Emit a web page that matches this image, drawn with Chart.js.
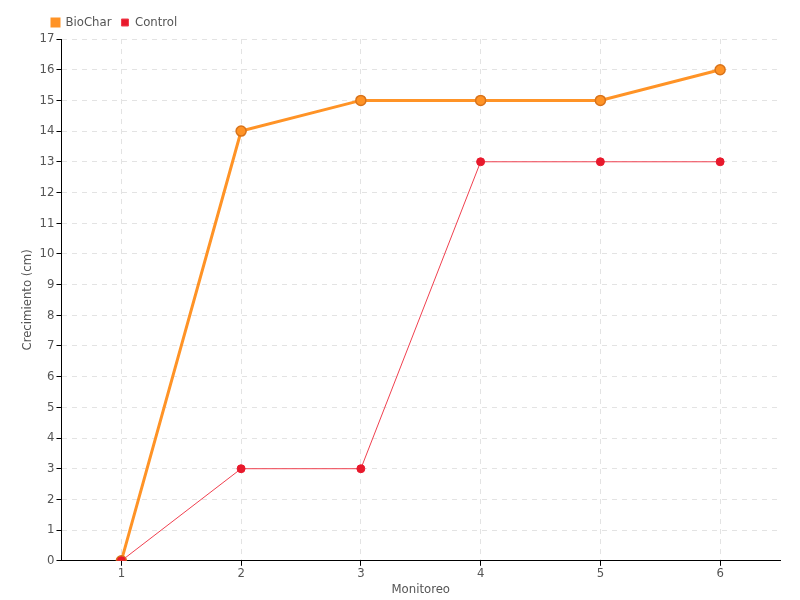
<!DOCTYPE html>
<html>
<head>
<meta charset="utf-8">
<script src="https://cdn.jsdelivr.net/npm/chart.js@4"></script>
<style>
  html, body { margin: 0; padding: 0; background: #fff; }
  #wrap { width: 800px; height: 600px; }
</style>
</head>
<body>
<div id="wrap"><canvas id="myChart"></canvas></div>
<script>
const labels = ['1', '2', '3', '4', '5', '6'];
const biochar = [0, 14, 15, 15, 15, 16];
const control = [0, 3, 3, 13, 13, 13];

Chart.defaults.font.family = "'DejaVu Sans Condensed', 'Liberation Sans Narrow', sans-serif";
Chart.defaults.font.size = 13;
Chart.defaults.color = '#555';

// nudge the legend right so it sits over the plot like the original
const legendShift = {
    id: 'legendShift',
    afterLayout(chart) {
        if (chart.legend) chart.legend.left += 24;
    }
};

const ctx = document.getElementById('myChart');

new Chart(ctx, {
    type: 'line',
    data: {
        labels,
        datasets: [
            {
                label: 'BioChar',
                data: biochar,
                borderColor: '#ff9326',
                backgroundColor: '#ff9326',
                borderWidth: 3,
                pointRadius: 5,
                pointBorderColor: '#d9731a',
                pointBackgroundColor: '#ff9326',
                pointBorderWidth: 1.5,
                order: 1,
            },
            {
                label: 'Control',
                data: control,
                borderColor: '#f0404f',
                backgroundColor: '#e8192c',
                borderWidth: 1,
                pointRadius: 4,
                pointBorderColor: '#e8192c',
                pointBackgroundColor: '#e8192c',
                order: 0,
            }
        ]
    },
    plugins: [legendShift],
    options: {
        responsive: true,
        maintainAspectRatio: false,
        animation: false,
        layout: { padding: { left: 18, right: 20, top: 6, bottom: 3 } },
        plugins: {
            legend: {
                align: 'start',
                labels: {
                    boxWidth: 7,
                    boxHeight: 7,
                    padding: 10,
                    color: '#555',
                    font: { size: 13 },
                    sort: (a, b) => a.datasetIndex - b.datasetIndex,
                }
            },
            tooltip: { enabled: false },
        },
        scales: {
            x: {
                offset: true,
                title: { display: true, text: 'Monitoreo', padding: 0 },
                grid: { color: '#e3e3e3', tickColor: '#000', tickLength: 5 },
                border: { color: '#000', dash: [5, 5] },
                ticks: { padding: 0 },
            },
            y: {
                min: 0,
                max: 17,
                title: { display: true, text: 'Crecimiento (cm)', padding: 2 },
                grid: { color: '#e3e3e3', tickColor: '#000', tickLength: 5 },
                border: { color: '#000', dash: [5, 5] },
                ticks: { stepSize: 1, padding: 2 },
            }
        }
    }
});
</script>
</body>
</html>
